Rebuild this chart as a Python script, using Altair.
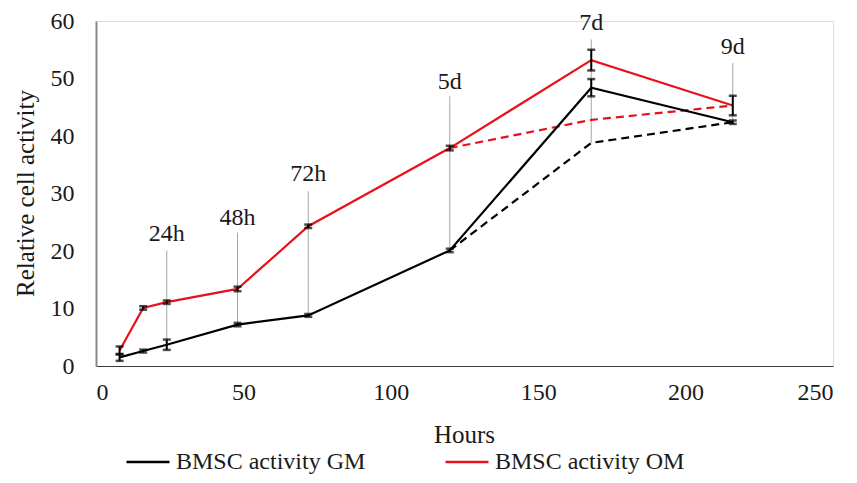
import altair as alt
import pandas as pd

# ---- data ----
hours = [8, 16, 24, 48, 72, 120, 168, 216]
gm = [1.5, 2.6, 3.7, 7.2, 8.8, 20.1, 48.4, 42.4]
gm_err = [0.6, 0.25, 0.9, 0.3, 0.25, 0.3, 1.5, 0.3]
om = [2.7, 10.1, 11.1, 13.4, 24.3, 37.9, 53.2, 45.3]
om_err = [0.7, 0.3, 0.3, 0.4, 0.3, 0.4, 1.8, 1.7]

dash_hours = [120, 168, 216]
gm_dash = [20.1, 38.8, 42.4]
om_dash = [37.9, 42.8, 45.3]

ann_text = ["24h", "48h", "72h", "5d", "7d", "9d"]
ann_x = [24, 48, 72, 120, 168, 216]
ann_label_y = [22.9, 25.8, 33.4, 49.4, 59.7, 55.5]
ann_top = [20.1, 23.2, 30.4, 46.9, 56.8, 52.7]
ann_bottom = [3.0, 7.2, 8.8, 20.1, 38.8, 42.4]

series_names = ["BMSC activity GM", "BMSC activity OM"]
series_colors = ["#000000", "#e8111b"]
x_ticks = [0, 50, 100, 150, 200, 250]
y_ticks = [0, 10, 20, 30, 40, 50, 60]

FONT = "Liberation Serif"
TXT = "#1a1a1a"

# ---- tables ----
solid = pd.DataFrame({
    "hour": hours * 2,
    "value": gm + om,
    "err": gm_err + om_err,
    "series": [series_names[0]] * len(hours) + [series_names[1]] * len(hours),
})
solid["lo"] = solid["value"] - solid["err"]
solid["hi"] = solid["value"] + solid["err"]

dash_gm = pd.DataFrame({"hour": dash_hours, "value": gm_dash})
dash_om = pd.DataFrame({"hour": dash_hours, "value": om_dash})

ann = pd.DataFrame({
    "text": ann_text, "hour": ann_x, "ly": ann_label_y,
    "top": ann_top, "bottom": ann_bottom,
})

xscale = alt.Scale(domain=[0, 250], nice=False, zero=False)
yscale = alt.Scale(domain=[0, 60], nice=False)
cscale = alt.Scale(domain=series_names, range=series_colors)

xaxis = alt.Axis(values=x_ticks, ticks=False, grid=False, domainColor="#3a3a3a",
                 domainWidth=1.2, labelFont=FONT, labelFontSize=24, labelColor=TXT,
                 labelPadding=14, title="Hours", titleFont=FONT, titleFontSize=25,
                 titleFontWeight="normal", titleColor=TXT, titleX=368, titleY=68,
                 titleBaseline="middle")
yaxis = alt.Axis(values=y_ticks, ticks=False, grid=False, domainColor="#8a8a8a",
                 domainWidth=2, labelFont=FONT, labelFontSize=24, labelColor=TXT,
                 labelPadding=22, title="Relative cell activity", titleFont=FONT,
                 titleFontSize=25, titleFontWeight="normal", titleColor=TXT,
                 titleX=-71, titleY=172, titleAngle=270, titleBaseline="middle")

leaders = alt.Chart(ann).mark_rule(color="#a6a6a6", strokeWidth=1).encode(
    x=alt.X("hour:Q", scale=xscale, axis=xaxis),
    y=alt.Y("bottom:Q", scale=yscale, axis=yaxis),
    y2="top:Q",
)

dash_black = alt.Chart(dash_gm).mark_line(strokeWidth=2.2, strokeDash=[8, 5],
                                          color=series_colors[0]).encode(
    x=alt.X("hour:Q", scale=xscale),
    y=alt.Y("value:Q", scale=yscale),
)
dash_red = alt.Chart(dash_om).mark_line(strokeWidth=2.2, strokeDash=[8, 5],
                                        color=series_colors[1]).encode(
    x=alt.X("hour:Q", scale=xscale),
    y=alt.Y("value:Q", scale=yscale),
)

lines = alt.Chart(solid).mark_line(strokeWidth=2.2).encode(
    x=alt.X("hour:Q", scale=xscale),
    y=alt.Y("value:Q", scale=yscale),
    color=alt.Color("series:N", scale=cscale, title=None,
                    legend=alt.Legend(orient="none", legendX=29, legendY=418,
                                      direction="horizontal", symbolType="stroke",
                                      symbolSize=1850, symbolStrokeWidth=2.5,
                                      labelFont=FONT, labelFontSize=24,
                                      labelColor=TXT, labelOffset=5,
                                      columnPadding=74, labelLimit=400)),
)

err_rule = alt.Chart(solid).mark_rule(color="black", strokeWidth=2).encode(
    x=alt.X("hour:Q", scale=xscale),
    y=alt.Y("lo:Q", scale=yscale),
    y2="hi:Q",
)
cap_lo = alt.Chart(solid).mark_tick(color="black", orient="horizontal", size=8,
                                    thickness=2.5).encode(
    x=alt.X("hour:Q", scale=xscale), y=alt.Y("lo:Q", scale=yscale))
cap_hi = alt.Chart(solid).mark_tick(color="black", orient="horizontal", size=8,
                                    thickness=2.5).encode(
    x=alt.X("hour:Q", scale=xscale), y=alt.Y("hi:Q", scale=yscale))

labels = alt.Chart(ann).mark_text(font=FONT, fontSize=24, color=TXT,
                                  align="center", baseline="middle").encode(
    x=alt.X("hour:Q", scale=xscale),
    y=alt.Y("ly:Q", scale=yscale),
    text="text:N",
)

chart = alt.layer(leaders, dash_black, dash_red, lines, err_rule, cap_lo, cap_hi,
                  labels).properties(
    width=737, height=345,
    autosize=alt.AutoSizeParams(type="none"),
    padding={"left": 88, "top": 13, "right": 16, "bottom": 109},
).configure_view(stroke=None).configure(background="white")

chart.save("out.html", embed_options={"renderer": "svg", "actions": False})
